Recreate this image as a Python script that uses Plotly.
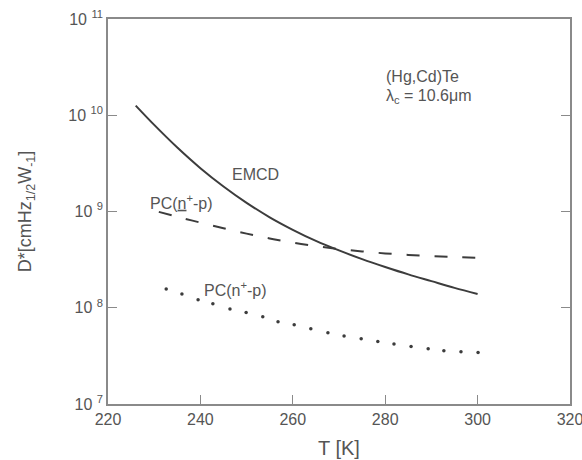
import plotly.graph_objects as go

# EMCD detectivity (solid curve)
t_emcd = [226, 230, 235, 240, 245, 250, 255, 260, 265, 270, 275, 280, 285, 290, 295, 300]
d_emcd = [1.26e10, 7.94e9, 4.62e9, 2.82e9, 1.82e9, 1.23e9, 8.71e8, 6.46e8, 4.95e8,
          3.94e8, 3.20e8, 2.65e8, 2.22e8, 1.89e8, 1.61e8, 1.39e8]

# PC with underlined n (dashed curve)
t_pc1 = [231, 235, 240, 245, 250, 255, 260, 265, 270, 275, 280, 285, 290, 295, 300]
d_pc1 = [9.91e8, 8.81e8, 7.67e8, 6.70e8, 5.89e8, 5.25e8, 4.74e8, 4.37e8, 4.07e8,
         3.85e8, 3.67e8, 3.54e8, 3.44e8, 3.36e8, 3.30e8]

# PC (dotted curve)
t_pc2 = [232.6, 236.0, 239.5, 242.7, 246.4, 249.9, 253.5, 256.8, 260.3, 263.9,
         267.6, 271.1, 274.8, 278.4, 281.9, 285.6, 289.3, 292.7, 296.4, 300.1]
d_pc2 = [1.57e8, 1.39e8, 1.21e8, 1.10e8, 9.7e7, 8.9e7, 8.05e7, 7.15e7, 6.65e7, 6.05e7,
         5.5e7, 5.1e7, 4.75e7, 4.45e7, 4.2e7, 3.95e7, 3.75e7, 3.58e7, 3.5e7, 3.42e7]

x_ticks = [220, 240, 260, 280, 300, 320]
y_ticks = [1e7, 1e8, 1e9, 1e10, 1e11]
y_tick_text = ["10 <sup>7</sup>", "10 <sup>8</sup>", "10 <sup>9</sup>",
               "10 <sup>10</sup>", "10 <sup>11</sup>"]

ink = "#3c3c3c"
grey = "#555555"
axis_grey = "#8a8a8a"
font = "Liberation Sans, Arial, sans-serif"

fig = go.Figure()
fig.add_trace(go.Scatter(x=t_emcd, y=d_emcd, mode="lines",
                         line=dict(color=ink, width=2, shape="spline"),
                         showlegend=False, hoverinfo="skip"))
fig.add_trace(go.Scatter(x=t_pc1, y=d_pc1, mode="lines",
                         line=dict(color=ink, width=2, dash="13px,15px", shape="spline"),
                         showlegend=False, hoverinfo="skip"))
fig.add_trace(go.Scatter(x=t_pc2, y=d_pc2, mode="markers",
                         marker=dict(color=ink, size=3.5),
                         showlegend=False, hoverinfo="skip"))

ann_font = dict(family=font, size=16, color=grey)
fig.add_annotation(x=252.0, y=9.38, text="EMCD", showarrow=False,
                   xanchor="center", yanchor="middle", font=ann_font)
fig.add_annotation(x=236.0, y=9.10, text="PC(<u>n</u><sup>+</sup>-p)", showarrow=False,
                   xanchor="center", yanchor="middle", font=ann_font)
fig.add_annotation(x=247.5, y=8.20, text="PC(n<sup>+</sup>-p)", showarrow=False,
                   xanchor="center", yanchor="middle", font=ann_font)
fig.add_annotation(x=279.8, y=10.40, text="(Hg,Cd)Te", showarrow=False,
                   xanchor="left", yanchor="middle",
                   font=dict(family=font, size=16, color=grey))
fig.add_annotation(x=279.8, y=10.20, text="λ<sub>c</sub> = 10.6μm", showarrow=False,
                   xanchor="left", yanchor="middle",
                   font=dict(family=font, size=16, color=grey))

fig.update_layout(
    width=582, height=460,
    margin=dict(l=108, r=12, t=19, b=56),
    paper_bgcolor="white", plot_bgcolor="white",
    font=dict(family=font, color=grey),
)
fig.update_xaxes(
    range=[220, 320], tickvals=x_ticks, ticks="inside", ticklen=9,
    tickcolor=axis_grey, showline=True, linecolor=axis_grey, linewidth=1.5,
    mirror=True, showgrid=False, zeroline=False, automargin=False,
    ticklabeloverflow="allow",
    tickfont=dict(family=font, size=16, color=grey),
    title=dict(text="T [K]", font=dict(family=font, size=20, color=grey), standoff=14),
)
fig.update_yaxes(
    type="log", range=[7, 11], tickvals=y_ticks, ticktext=y_tick_text,
    ticks="inside", ticklen=9, tickcolor=axis_grey, showline=True,
    linecolor=axis_grey, linewidth=1.5, mirror="ticks", showgrid=False,
    zeroline=False, automargin=False, ticklabeloverflow="allow",
    tickfont=dict(family=font, size=16, color=grey),
    title=dict(text="D*[cmHz<sub>1/2</sub>W<sub>-1</sub>]",
               font=dict(family=font, size=18, color=grey), standoff=32),
)

fig.write_html("out.html")
